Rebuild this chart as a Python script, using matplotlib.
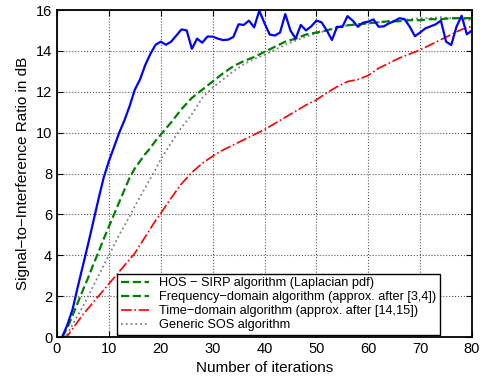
import numpy as np
import matplotlib.pyplot as plt
from matplotlib.lines import Line2D

plt.rcParams['font.family'] = ['Liberation Sans', 'DejaVu Sans']

# HOS - SIRP (blue, every iteration)
it_hos = np.arange(1, 81)
snr_hos = [0.0, 0.6, 1.35, 2.45, 3.5, 4.55, 5.65, 6.75, 7.8, 8.6,
           9.3, 10.0, 10.6, 11.3, 12.1, 12.6, 13.3, 13.85, 14.3, 14.45,
           14.3, 14.45, 14.75, 15.05, 15.0, 14.1, 14.6, 14.4, 14.7, 14.7,
           14.6, 14.53, 14.55, 14.68, 15.3, 15.27, 15.48, 15.15, 15.97, 15.35,
           14.8, 14.75, 14.9, 15.8, 15.0, 14.6, 15.27, 15.0, 15.2, 15.48,
           15.4, 15.0, 14.53, 15.18, 15.17, 15.7, 15.48, 15.18, 15.38, 15.43,
           15.54, 15.18, 15.2, 15.35, 15.45, 15.6, 15.55, 15.18, 14.72, 14.9,
           15.1, 15.2, 15.3, 15.48, 14.45, 14.29, 15.18, 15.72, 14.81, 15.0]

# smooth curves
it_s = [1, 2, 3, 4, 5, 6, 7, 8, 9, 10, 11, 12, 13, 14, 15, 16, 17, 18, 19, 20,
        22, 24, 26, 28, 30, 32, 34, 36, 38, 40, 42, 44, 46, 48, 50,
        52, 54, 56, 58, 60, 62, 64, 66, 68, 70, 72, 74, 76, 78, 80]
snr_freq = [0.0, 0.45, 1.05, 1.67, 2.3, 2.9, 3.55, 4.15, 4.8, 5.4,
            6.0, 6.6, 7.2, 7.8, 8.25, 8.6, 8.95, 9.25, 9.6, 9.9,
            10.5, 11.15, 11.7, 12.1, 12.5, 12.9, 13.25, 13.5, 13.7, 13.95,
            14.2, 14.45, 14.6, 14.8, 14.9, 15.0, 15.15, 15.25, 15.3, 15.35,
            15.4, 15.45, 15.45, 15.5, 15.5, 15.55, 15.55, 15.6, 15.6, 15.6]
snr_time = [0.0, 0.05, 0.4, 0.75, 1.1, 1.4, 1.7, 2.0, 2.3, 2.6,
            2.9, 3.2, 3.5, 3.8, 4.1, 4.5, 4.9, 5.3, 5.7, 6.05,
            6.8, 7.5, 8.05, 8.5, 8.85, 9.15, 9.4, 9.65, 9.9, 10.15,
            10.45, 10.75, 11.05, 11.35, 11.6, 11.95, 12.25, 12.5, 12.6, 12.8,
            13.15, 13.4, 13.65, 13.85, 14.05, 14.3, 14.55, 14.8, 15.05, 15.2]
snr_sos = [0.0, 0.15, 0.6, 1.05, 1.5, 2.0, 2.5, 3.0, 3.5, 4.0,
           4.5, 5.0, 5.45, 5.9, 6.4, 6.85, 7.3, 7.75, 8.2, 8.7,
           9.5, 10.25, 10.9, 11.7, 12.2, 12.6, 13.0, 13.35, 13.6, 13.8,
           14.05, 14.3, 14.5, 14.7, 14.85, 15.0, 15.15, 15.25, 15.3, 15.35,
           15.4, 15.45, 15.5, 15.55, 15.6, 15.6, 15.65, 15.6, 15.55, 15.5]

labels = ['HOS \u2212 SIRP algorithm (Laplacian pdf)',
          'Frequency\u2212domain algorithm (approx. after [3,4])',
          'Time\u2212domain algorithm (approx. after [14,15])',
          'Generic SOS algorithm']

green = (0, 0.5, 0)
grey = '0.5'

fig = plt.figure(figsize=(4.81, 3.76), dpi=100)
ax = fig.add_axes([0.1185, 0.1037, 0.8628, 0.8697])

ax.plot(it_s, snr_sos, color=grey, linestyle=':', linewidth=1.3)
ax.plot(it_s, snr_time, color='red', linestyle='-.', linewidth=1.2)
ax.plot(it_s, snr_freq, color=green, linestyle='--', linewidth=1.6)
ax.plot(it_hos, snr_hos, color='blue', linewidth=1.6)

ax.set_xlim(0, 80)
ax.set_ylim(0, 16)
ax.set_xticks(range(0, 81, 10))
ax.set_yticks(range(0, 17, 2))
ax.grid(True, linestyle=':', color='0.35', linewidth=0.8)
ax.tick_params(direction='in', top=True, right=True, labelsize=10.5, length=4)
for s in ax.spines.values():
    s.set_linewidth(1.3)

ax.set_xlabel('Number of iterations', fontsize=11)
ax.set_ylabel('Signal\u2212to\u2212Interference Ratio in dB', fontsize=11)

# legend handles as in the original figure (first entry drawn green dashed)
handles = [Line2D([], [], color=green, linestyle='--', linewidth=1.6),
           Line2D([], [], color=green, linestyle='--', linewidth=1.6),
           Line2D([], [], color='red', linestyle='-.', linewidth=1.2),
           Line2D([], [], color=grey, linestyle=':', linewidth=1.3)]
leg = ax.legend(handles, labels, loc='lower left', bbox_to_anchor=(0.145, 0.006),
                fontsize=9.2, fancybox=False, framealpha=1, edgecolor='black',
                handlelength=2.2, handletextpad=0.8, labelspacing=0.15,
                borderpad=0.3, borderaxespad=0)
leg.get_frame().set_linewidth(1.0)

fig.savefig('out.png', dpi=100)
